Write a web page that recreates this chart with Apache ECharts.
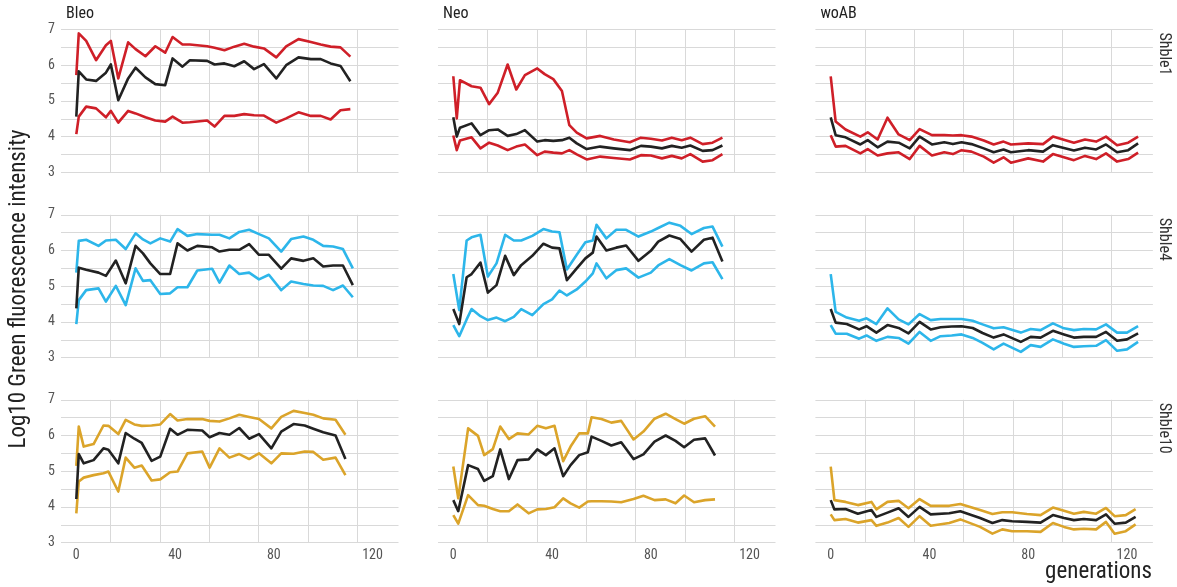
<!DOCTYPE html>
<html>
<head>
<meta charset="utf-8">
<script src="https://cdn.jsdelivr.net/npm/echarts@6/dist/echarts.min.js"></script>
<style>
html,body{margin:0;padding:0;background:#fff;}
#chart{width:1177px;height:587px;}
</style>
</head>
<body>
<div id="chart"></div>
<script>
// ---- data ----
const treatments = ['Bleo', 'Neo', 'woAB'];
const constructs = ['Shble1', 'Shble4', 'Shble10'];
const xTicks = [0, 40, 80, 120];
const yTicks = [3, 4, 5, 6, 7];

const bleoShble1X = [0,1,4,8,12,14,17,21,24,28,32,36,39,43,46,53,56,60,64,68,72,76,81,85,90,95,99,103,107,111];
const bleoShble1Hi = [5.72,6.89,6.68,6.14,6.56,6.68,5.63,6.64,6.45,6.25,6.53,6.35,6.79,6.58,6.58,6.53,6.49,6.42,6.52,6.6,6.52,6.47,6.22,6.53,6.73,6.65,6.58,6.52,6.5,6.24];
const bleoShble1Mean = [4.56,5.83,5.6,5.56,5.79,6.02,5.02,5.63,5.93,5.66,5.47,5.44,6.19,5.96,6.14,6.12,6.02,6.05,5.97,6.11,5.89,6.03,5.63,6.0,6.22,6.17,6.17,6.05,5.98,5.55];
const bleoShble1Lo = [4.07,4.56,4.84,4.79,4.54,4.72,4.39,4.72,4.65,4.54,4.45,4.42,4.56,4.39,4.40,4.45,4.28,4.58,4.58,4.63,4.6,4.59,4.39,4.51,4.68,4.58,4.58,4.48,4.74,4.77];

const bleoShble4X = [0,1,4,9,12,16,20,24,27,30,34,38,41,45,49,55,58,62,66,70,74,78,83,87,92,96,100,104,108,112];
const bleoShble4Hi = [5.38,6.27,6.3,6.13,6.28,6.3,6.04,6.48,6.31,6.2,6.34,6.25,6.6,6.41,6.46,6.44,6.44,6.34,6.52,6.58,6.46,6.34,5.97,6.32,6.39,6.3,6.13,6.11,6.04,5.5];
const bleoShble4Mean = [4.38,5.52,5.46,5.38,5.29,5.72,5.08,6.13,5.92,5.64,5.34,5.34,6.2,6.0,6.13,6.09,5.97,6.02,6.02,6.18,5.88,5.88,5.49,5.78,5.71,5.78,5.55,5.58,5.58,5.03];
const bleoShble4Lo = [3.94,4.61,4.89,4.94,4.57,5.01,4.47,5.5,5.15,5.17,4.78,4.8,4.97,4.97,5.44,5.49,5.1,5.58,5.34,5.38,5.19,5.32,4.89,5.13,5.06,5.02,5.01,4.89,5.02,4.69];

const bleoShble10X = [0,1,3,7,11,13,17,20,23.5,26.5,30.5,34,38,41,45,51,54,58,62,66,70,74,79,83,88,92.5,96,100,105,109];
const bleoShble10Hi = [5.15,6.25,5.69,5.76,6.28,6.27,6.04,6.44,6.31,6.27,6.28,6.31,6.6,6.42,6.46,6.46,6.41,6.39,6.48,6.58,6.52,6.46,6.2,6.52,6.69,6.63,6.58,6.48,6.44,6.02];
const bleoShble10Mean = [4.22,5.48,5.22,5.31,5.64,5.6,5.22,6.07,5.91,5.79,5.29,5.41,6.19,6.02,6.16,6.14,5.95,6.07,6.02,6.21,5.91,6.04,5.64,6.11,6.32,6.28,6.19,6.09,6.0,5.34];
const bleoShble10Lo = [3.82,4.71,4.82,4.89,4.94,4.99,4.43,5.38,5.1,5.16,4.74,4.77,4.97,4.99,5.5,5.55,5.1,5.64,5.38,5.48,5.34,5.5,5.22,5.5,5.49,5.55,5.54,5.32,5.38,4.89];

const neoShble1X = [0,1.4,2.7,7.4,11,14.5,18,22,25.5,29,34,37,40.5,44,47,50,54,59.5,65,71.5,76,80,84.5,88.5,92.5,96,101,105,109];
const neoShble1Hi = [5.69,4.51,5.58,5.41,5.37,4.91,5.23,6.02,5.32,5.72,5.91,5.75,5.61,5.28,4.32,4.11,3.95,4.02,3.92,3.84,3.97,3.94,3.89,3.97,3.9,3.97,3.79,3.83,3.97];
const neoShble1Mean = [4.54,4.0,4.25,4.37,4.04,4.18,4.2,4.02,4.07,4.18,3.86,3.9,3.88,3.9,3.97,3.81,3.65,3.72,3.67,3.62,3.74,3.72,3.67,3.74,3.69,3.75,3.6,3.62,3.75];
const neoShble1Lo = [4.03,3.62,3.89,3.98,3.67,3.83,3.75,3.62,3.72,3.78,3.48,3.58,3.55,3.53,3.62,3.5,3.36,3.44,3.4,3.36,3.48,3.47,3.39,3.46,3.39,3.51,3.3,3.34,3.51];

const neoShble4X = [0,2.4,5.4,7.4,11,14,17.5,21,24.5,27.5,32,36.5,40,43,46,50,53.5,56.5,58,62,66,70,75,80,83,87.5,92,96.5,101.5,105,109];
const neoShble4Hi = [5.34,4.33,6.28,6.37,6.44,5.27,5.64,6.44,6.28,6.28,6.41,6.6,6.53,6.51,5.47,5.88,6.23,6.28,6.72,6.34,6.58,6.58,6.39,6.53,6.63,6.78,6.69,6.46,6.63,6.67,6.11];
const neoShble4Mean = [4.36,3.94,5.25,5.34,5.66,4.82,5.03,5.85,5.31,5.59,5.85,6.19,6.08,6.06,5.17,5.5,5.78,5.94,6.39,6.0,6.08,6.14,5.71,5.99,6.25,6.42,6.32,5.97,6.3,6.36,5.69];
const neoShble4Lo = [3.91,3.6,4.07,4.36,4.16,4.05,4.12,4.02,4.14,4.36,4.19,4.5,4.63,4.88,4.74,4.91,5.13,5.36,5.64,5.22,5.45,5.5,5.24,5.38,5.58,5.76,5.59,5.44,5.64,5.67,5.2];

const neoShble10X = [0,2,6,10,12.5,16,19,22.5,26,30.5,34,37.5,41,44.5,47.5,51,54.5,56,60,64,68,73,77,81.5,86,90,93.5,97.5,102,106];
const neoShble10Hi = [5.13,4.24,6.2,5.99,5.45,5.62,6.25,5.9,6.06,6.03,6.27,6.2,6.27,5.28,5.69,6.06,6.06,6.51,6.46,6.36,6.41,5.89,6.11,6.47,6.61,6.46,6.33,6.47,6.54,6.25];
const neoShble10Mean = [4.19,3.88,5.17,5.06,4.73,4.86,5.61,4.78,5.31,5.33,5.61,5.45,5.64,4.86,5.17,5.45,5.53,5.97,5.85,5.72,5.81,5.34,5.47,5.83,6.0,5.85,5.67,5.88,5.92,5.44];
const neoShble10Lo = [3.77,3.53,4.33,4.05,4.03,3.94,3.88,3.88,4.07,3.82,3.93,3.94,3.99,4.24,4.1,3.98,4.15,4.16,4.16,4.15,4.13,4.22,4.31,4.19,4.21,4.1,4.32,4.13,4.19,4.21];

const woabShble1X = [0,2,6,12,15,19,23,27.5,32,36,41,46,49.5,53,57,62,66,70,73,80,86,90,98.5,103,107.5,111.5,116,120.5,124.5];
const woabShble1Hi = [5.69,4.42,4.2,4.0,4.12,3.92,4.53,4.06,3.9,4.21,4.04,4.04,4.03,4.04,4.0,3.89,3.78,3.86,3.78,3.81,3.79,4.0,3.83,3.92,3.86,4.0,3.76,3.83,4.0];
const woabShble1Mean = [4.54,4.04,3.98,3.78,3.9,3.7,3.86,3.83,3.67,4.0,3.78,3.84,3.79,3.84,3.79,3.67,3.56,3.64,3.56,3.62,3.58,3.76,3.61,3.69,3.64,3.78,3.56,3.62,3.81];
const woabShble1Lo = [4.04,3.72,3.74,3.53,3.65,3.47,3.53,3.56,3.37,3.74,3.47,3.56,3.51,3.62,3.58,3.44,3.27,3.42,3.27,3.39,3.3,3.51,3.34,3.46,3.37,3.53,3.3,3.37,3.55];

const woabShble4X = [0,2,6.5,11.5,14.5,18.5,23,27.5,31.5,36,40.5,44.5,49,53,57.5,61.5,66,70,77,81,85,90,94.5,98.5,102.5,107.5,111.5,116,120,124.5];
const woabShble4Hi = [5.34,4.28,4.12,4.03,4.1,3.94,4.38,4.07,3.93,4.22,4.05,4.08,4.08,4.08,4.03,3.93,3.82,3.85,3.7,3.8,3.77,3.96,3.82,3.77,3.8,3.79,3.93,3.7,3.7,3.88];
const woabShble4Mean = [4.36,3.98,3.94,3.79,3.88,3.7,3.91,3.83,3.68,4.0,3.79,3.85,3.87,3.88,3.83,3.69,3.56,3.65,3.44,3.58,3.56,3.75,3.65,3.56,3.58,3.58,3.72,3.47,3.51,3.68];
const woabShble4Lo = [3.91,3.67,3.67,3.53,3.62,3.47,3.58,3.55,3.39,3.72,3.47,3.6,3.62,3.65,3.55,3.41,3.23,3.39,3.16,3.35,3.3,3.51,3.39,3.3,3.32,3.33,3.49,3.19,3.23,3.44];

const woabShble10X = [0,1.5,6,11,16.5,18.5,23,27.5,31.5,36,40.5,48,52.5,60.5,65.5,69.5,73.5,79.5,85,90,94.5,98.5,102.5,107.5,111.5,115,119.5,123.5];
const woabShble10Hi = [5.13,4.19,4.14,4.05,4.14,3.93,4.14,4.17,3.96,4.22,4.03,4.03,4.08,3.91,3.8,3.85,3.85,3.8,3.77,3.98,3.89,3.81,3.86,3.81,3.97,3.74,3.77,3.94];
const woabShble10Mean = [4.19,3.93,3.94,3.81,3.91,3.72,3.84,3.96,3.72,4.0,3.79,3.82,3.88,3.69,3.55,3.63,3.6,3.58,3.56,3.77,3.69,3.63,3.66,3.63,3.79,3.53,3.56,3.72];
const woabShble10Lo = [3.79,3.63,3.66,3.56,3.63,3.47,3.56,3.69,3.44,3.74,3.47,3.55,3.65,3.44,3.25,3.37,3.32,3.32,3.3,3.55,3.44,3.37,3.39,3.37,3.58,3.25,3.32,3.51];

// ---- panel assembly (row = construct, col = treatment) ----
const panels = [
  [[bleoShble1X,bleoShble1Hi,bleoShble1Mean,bleoShble1Lo],[neoShble1X,neoShble1Hi,neoShble1Mean,neoShble1Lo],[woabShble1X,woabShble1Hi,woabShble1Mean,woabShble1Lo]],
  [[bleoShble4X,bleoShble4Hi,bleoShble4Mean,bleoShble4Lo],[neoShble4X,neoShble4Hi,neoShble4Mean,neoShble4Lo],[woabShble4X,woabShble4Hi,woabShble4Mean,woabShble4Lo]],
  [[bleoShble10X,bleoShble10Hi,bleoShble10Mean,bleoShble10Lo],[neoShble10X,neoShble10Hi,neoShble10Mean,neoShble10Lo],[woabShble10X,woabShble10Hi,woabShble10Mean,woabShble10Lo]]
];
const rowColors = ['#cf1f28', '#2db6ea', '#dba42a'];
const meanColor = '#222222';

const FONT = "'Roboto Condensed','Liberation Sans Narrow','Roboto',sans-serif";
const colLeft = [61, 438, 815.4];
const panelW = 337.5;
const rowTop = [29.5, 214.8, 399.8];
const panelH = 142.8;
const gridColor = '#d9d9d9';

const grids = [], xAxes = [], yAxes = [], series = [], graphics = [];
const zip = (xs, ys) => xs.map((x, i) => [x, ys[i]]);

for (let r = 0; r < 3; r++) {
  for (let c = 0; c < 3; c++) {
    const idx = r * 3 + c;
    grids.push({left: colLeft[c], top: rowTop[r], width: panelW, height: panelH, containLabel: false});
    xAxes.push({
      type: 'value', gridIndex: idx, min: -6.2, max: 130.5, interval: 20,
      axisLine: {show: false}, axisTick: {show: false},
      axisLabel: {show: r === 2, color: '#555', fontSize: 14, fontFamily: FONT, margin: 6,
        customValues: xTicks, showMinLabel: true, showMaxLabel: true, hideOverlap: false},
      splitLine: {show: true, showMinLine: false, showMaxLine: false, lineStyle: {color: gridColor, width: 1}}
    });
    yAxes.push({
      type: 'value', gridIndex: idx, min: 3, max: 7, interval: 0.5,
      axisLine: {show: false}, axisTick: {show: false},
      axisLabel: {show: c === 0, color: '#555', fontSize: 14, fontFamily: FONT, margin: 6,
        formatter: v => (yTicks.indexOf(v) >= 0 ? String(v) : '')},
      splitLine: {show: true, lineStyle: {color: gridColor, width: 1}}
    });
    const [xs, hi, mean, lo] = panels[r][c];
    [[hi, rowColors[r]], [lo, rowColors[r]], [mean, meanColor]].forEach(([ys, col]) => {
      series.push({
        type: 'line', xAxisIndex: idx, yAxisIndex: idx, data: zip(xs, ys),
        showSymbol: false, symbol: 'none', silent: true, animation: false,
        lineStyle: {color: col, width: 2.6, join: 'round'}
      });
    });
  }
}

treatments.forEach((t, c) => {
  graphics.push({type: 'text', left: colLeft[c] + 5, top: 6,
    style: {text: t, fill: '#222', fontSize: 16, fontFamily: FONT}});
});
constructs.forEach((s, r) => {
  graphics.push({type: 'text', x: 1172, y: rowTop[r] + 3, rotation: -Math.PI / 2,
    style: {text: s, fill: '#333', fontSize: 16, fontFamily: FONT, align: 'left', verticalAlign: 'top'}});
});
graphics.push({type: 'text', x: 8, y: 289, rotation: Math.PI / 2,
  style: {text: 'Log10 Green fluorescence intensity', fill: '#222', fontSize: 23, fontFamily: FONT, align: 'center', verticalAlign: 'top'}});
graphics.push({type: 'text', x: 1152, y: 572,
  style: {text: 'generations', fill: '#222', fontSize: 23, fontFamily: FONT, align: 'right', verticalAlign: 'middle'}});

const chart = echarts.init(document.getElementById('chart'), null, {renderer: 'canvas'});
chart.setOption({
  animation: false,
  backgroundColor: '#ffffff',
  grid: grids, xAxis: xAxes, yAxis: yAxes, series: series,
  graphic: graphics
});
</script>
</body>
</html>
